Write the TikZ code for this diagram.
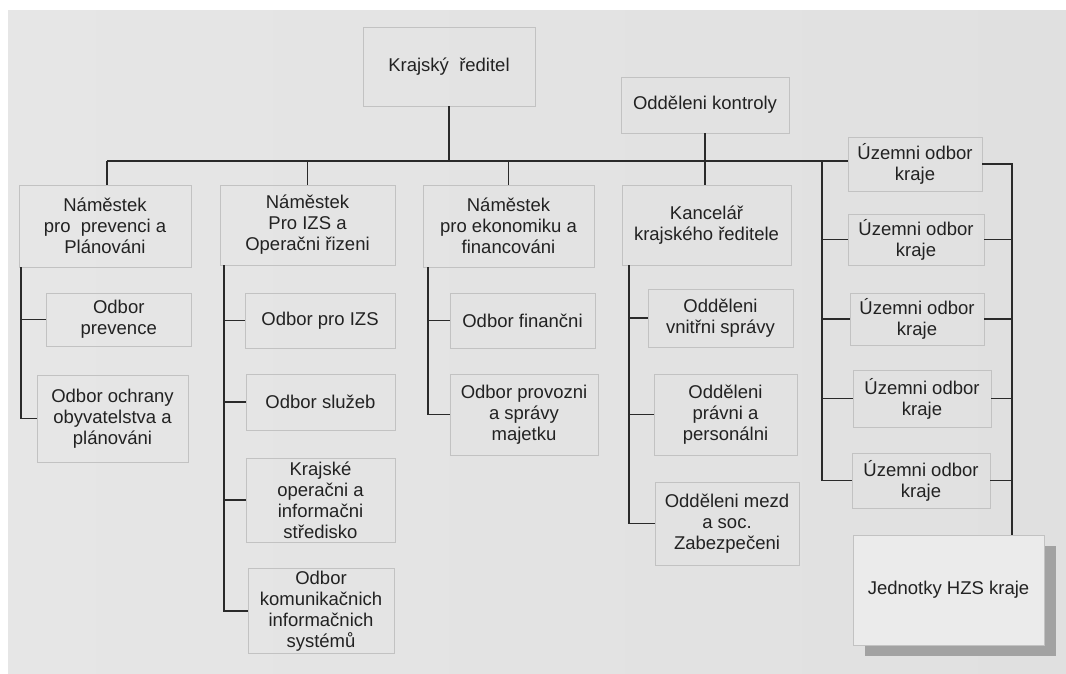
\documentclass[tikz,border=0pt]{standalone}
\usepackage{fontspec}
\setmainfont{Liberation Sans}
\usetikzlibrary{calc,shadows}
\definecolor{pageL}{HTML}{E6E6E6}
\definecolor{pageM}{HTML}{EEEEEE}
\definecolor{pageR}{HTML}{E0E0E0}
\definecolor{boxborder}{HTML}{C2C2C2}
\definecolor{boxfill}{HTML}{EBEBEB}
\definecolor{linecol}{HTML}{2A2A2A}
\definecolor{textcol}{HTML}{222222}
\definecolor{shadowcol}{HTML}{A2A2A2}
\newcommand{\bx}[6]{\node[box, minimum width=#4pt, minimum height=#5pt] (#1) at (#2,#3) {#6};}
\begin{document}
\begin{tikzpicture}[x=1pt,y=-1pt,
  box/.style={draw=boxborder, line width=0.8pt, align=center, inner sep=2pt,
    font=\fontsize{18.5}{21}\selectfont, text=textcol},
  bigbox/.style={box, fill=boxfill,
    drop shadow={shadow xshift=12pt, shadow yshift=-11pt, fill=shadowcol, opacity=1}},
  conn/.style={draw=linecol, line width=1.25pt}]
\useasboundingbox (0,0) rectangle (1066,673);
\fill[white] (0,0) rectangle (1066,673);
\shade[left color=pageL, middle color=pageM, right color=pageR] (8,10) rectangle (1066,673);

% top
\bx{kr}{449}{66.5}{172}{79}{Krajský\ \ ředitel}
\bx{ko}{705}{105}{168}{56}{Odděleni kontroly}
% deputies
\bx{n1}{105}{226}{172}{82}{Náměstek\\pro\ \ prevenci a\\Plánováni}
\bx{n2}{307.5}{225}{175}{80}{Náměstek\\Pro IZS a\\Operačni řizeni}
\bx{n3}{508.5}{226}{171}{82}{Náměstek\\pro ekonomiku a\\financováni}
\bx{kan}{706.5}{225}{169}{80}{Kancelář\\krajského ředitele}
% column 1
\bx{a1}{118.75}{319.5}{144.5}{53}{Odbor\\prevence}
\bx{a2}{112.5}{418.5}{151}{87}{Odbor ochrany\\obyvatelstva a\\plánováni}
% column 2
\bx{b1}{320}{320.5}{150}{55}{Odbor pro IZS}
\bx{b2}{320.5}{402}{149}{56}{Odbor služeb}
\bx{b3}{320.5}{500}{149}{84}{Krajské\\operačni a\\informačni\\středisko}
\bx{b4}{321}{611}{146}{84}{Odbor\\komunikačnich\\informačnich\\systémů}
% column 3
\bx{c1}{522.5}{320.5}{145}{55}{Odbor finančni}
\bx{c2}{524}{414.5}{148}{81}{Odbor provozni\\a správy\\majetku}
% column 4
\bx{d1}{720.5}{318}{145}{58}{Odděleni\\vnitřni správy}
\bx{d2}{725.5}{414.5}{143}{81}{Odděleni\\právni a\\personálni}
\bx{d3}{727}{523.5}{144}{83}{Odděleni mezd\\a soc.\\Zabezpečeni}
% column 5
\bx{u1}{915}{164}{134}{54}{Územni odbor\\kraje}
\bx{u2}{916}{239.5}{136}{51}{Územni odbor\\kraje}
\bx{u3}{917}{319}{134}{52}{Územni odbor\\kraje}
\bx{u4}{922}{398.5}{138}{57}{Územni odbor\\kraje}
\bx{u5}{921}{480.5}{138}{55}{Územni odbor\\kraje}
\node[bigbox, minimum width=191pt, minimum height=110pt] (jed) at (948.5,590) {Jednotky HZS kraje};

% bus
\coordinate (busL) at (107,161);
\coordinate (s1) at (21,0);
\coordinate (s2) at (224,0);
\coordinate (s3) at (428,0);
\coordinate (s4) at (629,0);
\coordinate (sL) at (822,0);
\coordinate (sR) at (1012,0);

\draw[conn] (busL) -- (busL -| u1.west);
\draw[conn] (kr.south) -- (kr.south |- busL);
\draw[conn] (busL) -- (busL |- n1.north);
\draw[conn] (n2.north) -- (n2.north |- busL);
\draw[conn] (n3.north) -- (n3.north |- busL);
\draw[conn] (ko.south) -- (ko.south |- kan.north);

% column spines
\draw[conn] (s1 |- n1.south) |- (a2.west);
\draw[conn] (a1.west) -- (a1.west -| s1);

\draw[conn] (s2 |- n2.south) |- (b4.west);
\draw[conn] (b1.west) -- (b1.west -| s2);
\draw[conn] (b2.west) -- (b2.west -| s2);
\draw[conn] (b3.west) -- (b3.west -| s2);

\draw[conn] (s3 |- n3.south) |- (c2.west);
\draw[conn] (c1.west) -- (c1.west -| s3);

\draw[conn] (s4 |- kan.south) |- (d3.west);
\draw[conn] (d1.west) -- (d1.west -| s4);
\draw[conn] (d2.west) -- (d2.west -| s4);

\draw[conn] (sL |- busL) |- (u5.west);
\draw[conn] (u2.west) -- (u2.west -| sL);
\draw[conn] (u3.west) -- (u3.west -| sL);
\draw[conn] (u4.west) -- (u4.west -| sL);

\draw[conn] (u1.east) -| (sR |- jed.north);
\draw[conn] (u2.east) -- (u2.east -| sR);
\draw[conn] (u3.east) -- (u3.east -| sR);
\draw[conn] (u4.east) -- (u4.east -| sR);
\draw[conn] (u5.east) -- (u5.east -| sR);
\end{tikzpicture}
\end{document}
